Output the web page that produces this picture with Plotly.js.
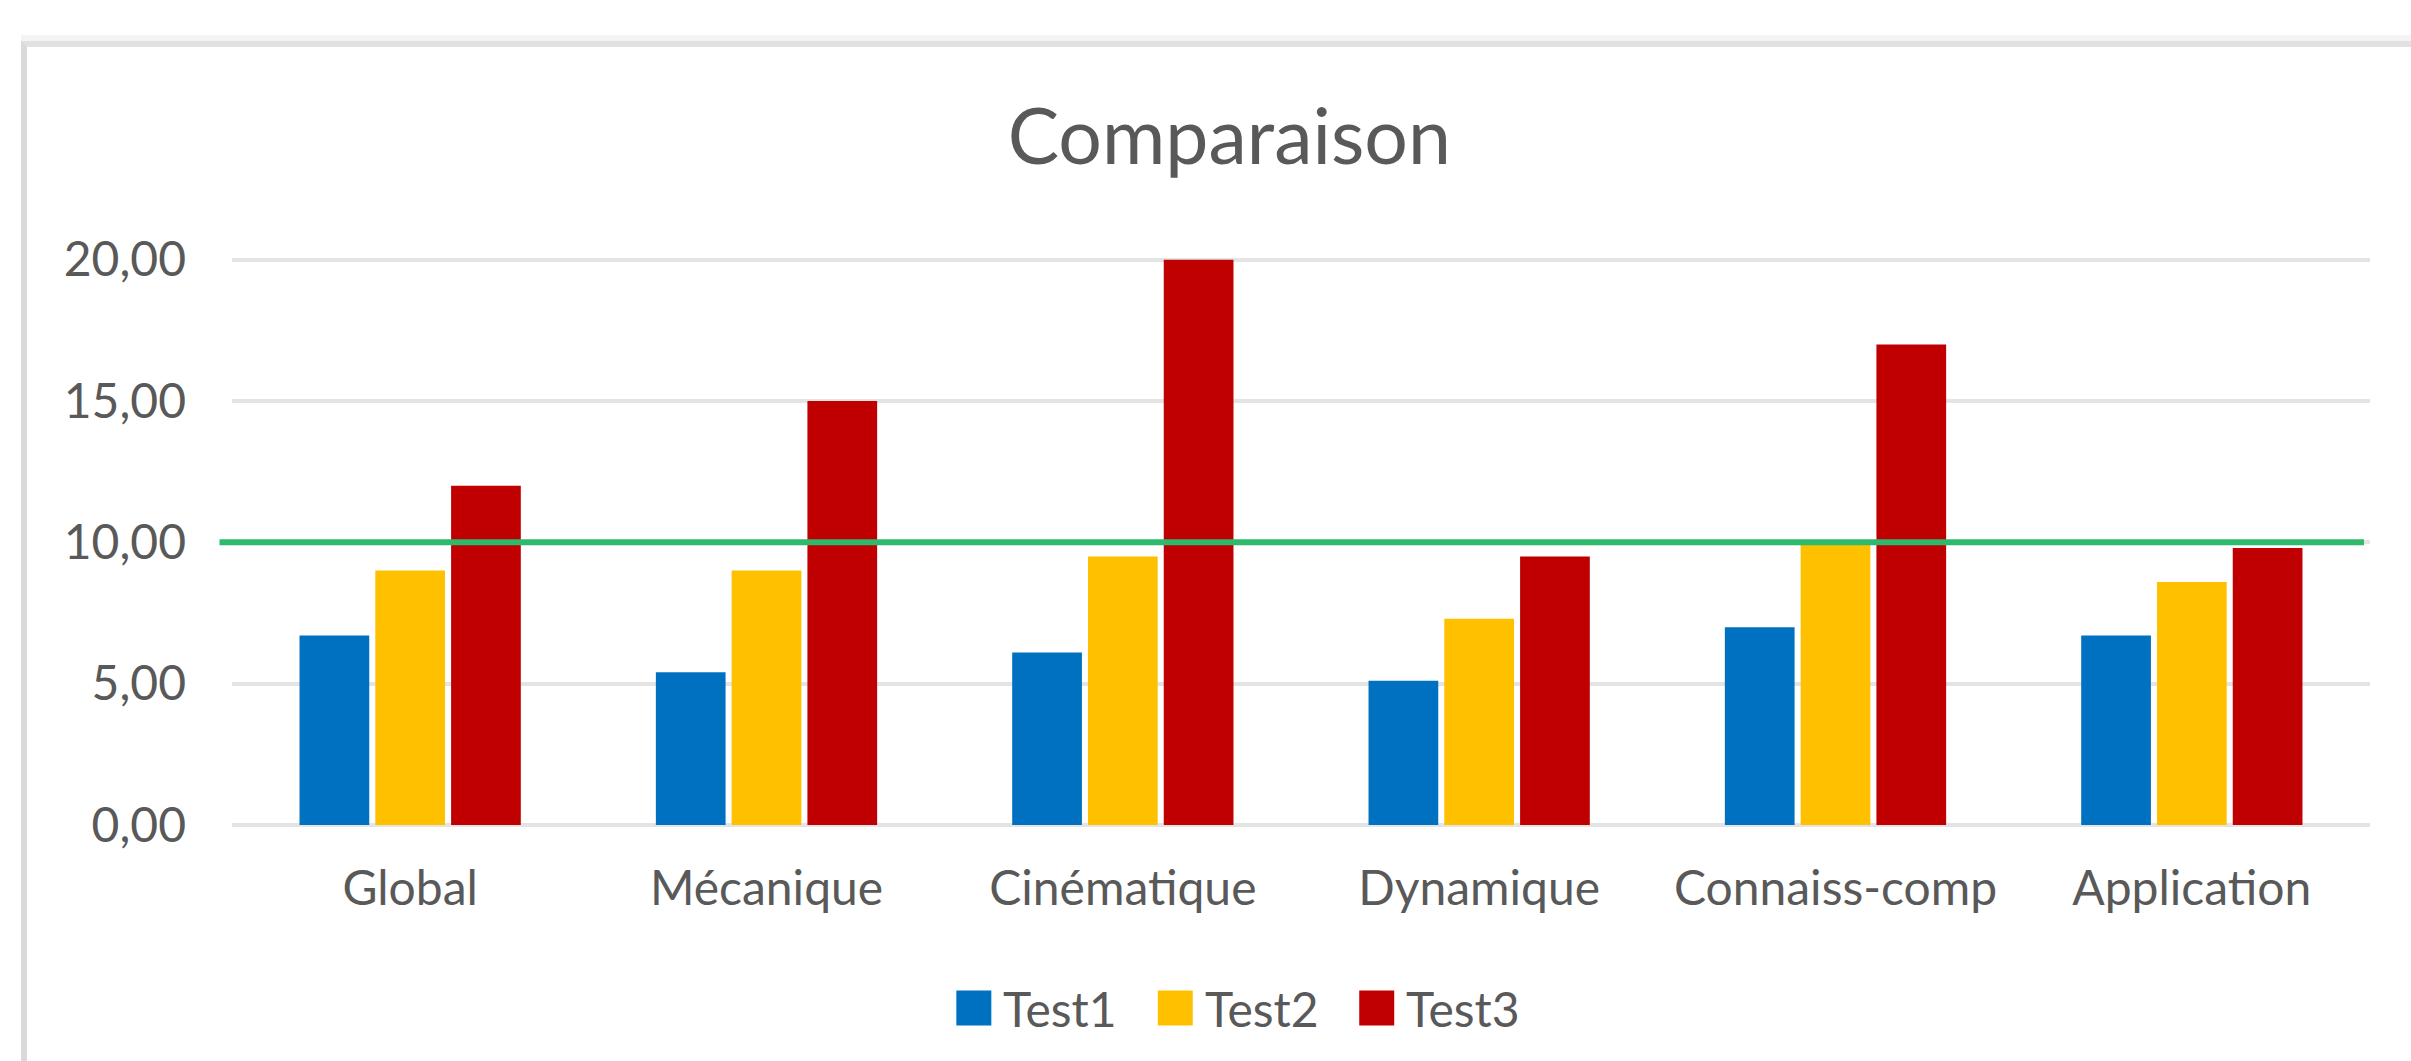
<!DOCTYPE html>
<html>
<head>
<meta charset="utf-8">
<script src="https://cdn.plot.ly/plotly-3.0.1.min.js"></script>
<style>
  html, body { margin: 0; padding: 0; background: #ffffff; overflow: hidden; }
  #wrap { position: relative; width: 2411px; height: 1061px; }
  #edge { position: absolute; left: 21px; top: 35px; width: 2400px; height: 6px; background: #f4f4f4; }
  #frame { position: absolute; left: 21px; top: 41px; width: 2400px; height: 1100px;
           border-left: 6px solid #d9d9d9; border-top: 6px solid #e1e1e1; }
  #chart { position: absolute; left: 0; top: 0; width: 2411px; height: 1061px; }
</style>
</head>
<body>
<div id="wrap">
  <div id="edge"></div>
  <div id="frame"></div>
  <div id="chart"></div>
</div>
<script>
// ---- data ----
const categories = ['Global', 'Mécanique', 'Cinématique', 'Dynamique', 'Connaiss-comp', 'Application'];
const seriesNames = ['Test1', 'Test2', 'Test3'];
const test1 = [6.7, 5.4, 6.1, 5.1, 7.0, 6.7];
const test2 = [9.0, 9.0, 9.5, 7.3, 10.0, 8.6];
const test3 = [12.0, 15.0, 20.0, 9.5, 17.0, 9.8];
const threshold = 10;
const yTickVals = [0, 5, 10, 15, 20];
const chartTitle = 'Comparaison';

// ---- styling ----
const colors = ['#0070C0', '#FFC000', '#C00000'];
const textColor = '#595959';
const font = 'Lato, "Open Sans", sans-serif';

const W = 2411, H = 1061;
const plotL = 231.5, plotR = 2370, plotBottom = 825, pxPerUnit = 28.25;
const yMax = 20.2;
const plotTop = plotBottom - yMax * pxPerUnit;
const plotW = plotR - plotL, plotH = plotBottom - plotTop;
const px2x = p => (p - plotL) / plotW;
const px2y = p => (plotBottom - p) / plotH;

const seriesValues = [test1, test2, test3];
const traces = seriesValues.map((vals, i) => ({
  type: 'bar',
  name: seriesNames[i],
  x: categories,
  y: vals,
  marker: { color: colors[i], line: { width: 0 } },
  showlegend: false,
  hoverinfo: 'x+y+name'
}));

const shapes = [{
  type: 'line', xref: 'paper', yref: 'y',
  x0: px2x(219), x1: px2x(2364), y0: threshold, y1: threshold,
  line: { color: '#2fb96c', width: 6 }
}];
const annotations = [];

// custom legend (large squares like the original)
const legStart = 956, legStep = 201.5, sq = 35, legCy = 1008;
seriesNames.forEach((n, i) => {
  const x0 = legStart + i * legStep;
  shapes.push({
    type: 'rect', xref: 'paper', yref: 'paper',
    x0: px2x(x0), x1: px2x(x0 + sq), y0: px2y(legCy + sq / 2), y1: px2y(legCy - sq / 2),
    fillcolor: colors[i], line: { width: 0 }
  });
  annotations.push({
    xref: 'paper', yref: 'paper', x: px2x(x0 + sq + 10), y: px2y(legCy),
    xanchor: 'left', yanchor: 'middle', showarrow: false, text: n,
    font: { family: font, size: 48, color: textColor }
  });
});

const layout = {
  width: W, height: H,
  margin: { l: plotL, r: W - plotR, t: plotTop, b: H - plotBottom, pad: 0 },
  paper_bgcolor: 'rgba(0,0,0,0)',
  plot_bgcolor: 'rgba(0,0,0,0)',
  separators: ', ',
  title: {
    text: chartTitle,
    font: { family: font, size: 77, color: textColor },
    xref: 'paper', x: px2x(1229), xanchor: 'center',
    yref: 'container', y: 1 - 137 / H, yanchor: 'middle'
  },
  barmode: 'group',
  bargap: 0.362,
  bargroupgap: 0.08,
  xaxis: {
    type: 'category',
    showgrid: false, zeroline: false, showline: false, ticks: '',
    tickfont: { family: font, size: 48, color: textColor },
    ticklabelstandoff: 31
  },
  yaxis: {
    range: [0, yMax],
    tickvals: yTickVals,
    tickformat: '.2f',
    showgrid: true, gridcolor: '#e4e4e4', gridwidth: 4,
    zeroline: true, zerolinecolor: '#e4e4e4', zerolinewidth: 4,
    showline: false, ticks: '',
    tickfont: { family: font, size: 48, color: textColor },
    ticklabelstandoff: 45
  },
  shapes: shapes,
  annotations: annotations,
  showlegend: false
};

Plotly.newPlot('chart', traces, layout, { displayModeBar: false, staticPlot: true });
</script>
</body>
</html>
